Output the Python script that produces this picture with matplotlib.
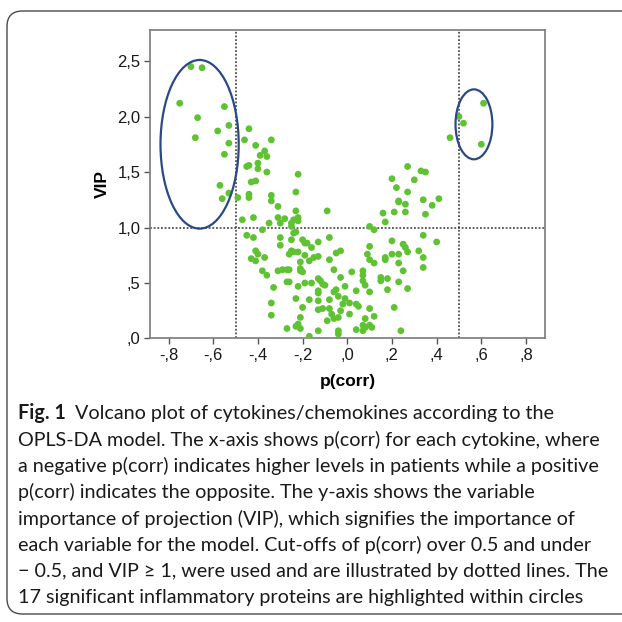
import matplotlib
matplotlib.use("Agg")
import matplotlib.pyplot as plt
from matplotlib.patches import Ellipse, FancyBboxPatch

# ==============================
# Data
# ==============================

# p(corr) / VIP of every protein
pcorr = [
    # left circled group
    -0.70, -0.65, -0.75, -0.55, -0.67, -0.53, -0.58, -0.68, -0.53, -0.55, -0.57, -0.53, -0.56,
    # right circled group
    0.61, 0.50, 0.52, 0.60,
    # VIP above 1, negative side
    -0.44, -0.46, -0.34, -0.41, -0.37, -0.39, -0.36, -0.40, -0.44, -0.45, -0.40, -0.36,
    -0.22, -0.41, -0.43, -0.49, -0.44, -0.44, -0.34, -0.23, -0.34, -0.31, -0.23, -0.09,
    -0.42, -0.47, -0.31, -0.28, -0.24, -0.22, -0.22, -0.35, -0.30, -0.25, -0.25,
    # VIP above 1, positive side
    0.46, 0.27, 0.33, 0.35, 0.20, 0.30, 0.22, 0.27, 0.23, 0.23, 0.26, 0.34, 0.38, 0.41,
    0.16, 0.21, 0.26, 0.35, 0.17, 0.10, 0.12,
    # VIP below 1, negative side (upper part)
    -0.38, -0.23, -0.24, -0.45, -0.42, -0.30, -0.20, -0.19, -0.08, -0.25, -0.30, -0.13,
    -0.18, -0.16, -0.41, -0.40, -0.25, -0.24, -0.26, -0.22, -0.19, -0.13, -0.05, -0.03,
    -0.37, -0.43, -0.17, -0.15, -0.41, -0.21, -0.08,
    # VIP below 1, positive side
    0.10, 0.25, 0.26, 0.20, 0.34, 0.40, 0.27, 0.32, 0.20, 0.23, 0.17, 0.17, 0.34, 0.09,
    0.10, 0.12, 0.23, 0.34, 0.25, 0.07, 0.07, 0.02, 0.15, 0.15, 0.18, -0.03, 0.07, 0.08,
    0.23, -0.01, 0.04, 0.18, 0.27, 0.10, -0.01, -0.02, -0.03, 0.01, 0.04, 0.05, 0.10,
    0.21, 0.01, 0.12, 0.08, 0.07, 0.08, 0.07, 0.10, 0.11, 0.04, 0.24, -0.04, -0.04,
    # VIP below 1, negative side (lower part)
    -0.38, -0.36, -0.31, -0.29, -0.27, -0.26, -0.21, -0.21, -0.20, -0.06, -0.27, -0.26,
    -0.19, -0.22, -0.16, -0.13, -0.12, -0.11, -0.10, -0.05, -0.06, -0.33, -0.13, -0.13,
    -0.17, -0.23, -0.13, -0.08, -0.04, -0.34, -0.20, -0.11, -0.13, -0.08, -0.34, -0.07,
    -0.21, -0.09, -0.06, -0.04, -0.22, -0.23, -0.27, -0.21, -0.13, -0.17,
]
vip = [
    2.45, 2.44, 2.12, 2.09, 1.99, 1.92, 1.87, 1.81, 1.76, 1.66, 1.38, 1.31, 1.26,
    2.12, 2.00, 1.94, 1.75,
    1.89, 1.79, 1.79, 1.74, 1.69, 1.65, 1.64, 1.58, 1.56, 1.55, 1.53, 1.50,
    1.48, 1.42, 1.41, 1.27, 1.30, 1.27, 1.29, 1.32, 1.24, 1.19, 1.15, 1.15,
    1.09, 1.07, 1.09, 1.08, 1.07, 1.09, 1.06, 1.04, 1.04, 1.04, 1.01,
    1.81, 1.55, 1.51, 1.50, 1.44, 1.43, 1.36, 1.32, 1.24, 1.23, 1.21, 1.25, 1.20, 1.26,
    1.13, 1.14, 1.14, 1.12, 1.05, 1.01, 0.98,
    0.98, 0.96, 0.95, 0.93, 0.91, 0.91, 0.89, 0.86, 0.91, 0.89, 0.84, 0.87,
    0.86, 0.82, 0.79, 0.76, 0.79, 0.78, 0.76, 0.78, 0.75, 0.74, 0.77, 0.79,
    0.73, 0.72, 0.70, 0.73, 0.70, 0.69, 0.71,
    0.83, 0.85, 0.82, 0.88, 0.93, 0.87, 0.78, 0.79, 0.76, 0.76, 0.73, 0.71, 0.73, 0.76,
    0.71, 0.68, 0.68, 0.64, 0.61, 0.61, 0.57, 0.60, 0.55, 0.52, 0.54, 0.55, 0.52, 0.48,
    0.51, 0.47, 0.43, 0.44, 0.45, 0.42, 0.36, 0.31, 0.25, 0.32, 0.31, 0.29, 0.27,
    0.28, 0.22, 0.20, 0.18, 0.12, 0.10, 0.07, 0.12, 0.10, 0.08, 0.07, 0.07, 0.04,
    0.61, 0.57, 0.61, 0.62, 0.62, 0.62, 0.63, 0.61, 0.60, 0.62, 0.51, 0.51,
    0.50, 0.47, 0.50, 0.54, 0.52, 0.49, 0.48, 0.44, 0.42, 0.46, 0.43, 0.41,
    0.35, 0.36, 0.34, 0.35, 0.38, 0.32, 0.28, 0.27, 0.26, 0.27, 0.21, 0.22,
    0.19, 0.16, 0.18, 0.19, 0.13, 0.11, 0.09, 0.09, 0.07, 0.02,
]

x_ticks = [-0.8, -0.6, -0.4, -0.2, 0.0, 0.2, 0.4, 0.6, 0.8]
x_ticklabels = ["-,8", "-,6", "-,4", "-,2", ",0", ",2", ",4", ",6", ",8"]
y_ticks = [0.0, 0.5, 1.0, 1.5, 2.0, 2.5]
y_ticklabels = [",0", ",5", "1,0", "1,5", "2,0", "2,5"]

pcorr_cutoff = 0.5
vip_cutoff = 1.0

# circled groups: (center p(corr), center VIP, width, height)
circles = [(-0.661, 1.75, 0.35, 1.52), (0.567, 1.93, 0.165, 0.63)]

caption_head = "Fig. 1"
caption_lines = [
    "Volcano plot of cytokines/chemokines according to the",
    "OPLS-DA model. The x-axis shows p(corr) for each cytokine, where",
    "a negative p(corr) indicates higher levels in patients while a positive",
    "p(corr) indicates the opposite. The y-axis shows the variable",
    "importance of projection (VIP), which signifies the importance of",
    "each variable for the model. Cut-offs of p(corr) over 0.5 and under",
    "\u2212 0.5, and VIP \u2265 1, were used and are illustrated by dotted lines. The",
    "17 significant inflammatory proteins are highlighted within circles",
]

# ==============================
# Figure
# ==============================

W = H = 622
fig = plt.figure(figsize=(W / 100, H / 100), dpi=100)
plt.rcParams['font.family'] = ['Liberation Sans', 'DejaVu Sans']

# rounded frame around the figure panel
frame = FancyBboxPatch((7 / W, 8 / H), 1.2, 1 - 19 / H,
                       boxstyle="round,pad=0,rounding_size=0.025",
                       transform=fig.transFigure, fill=False,
                       edgecolor="#4a4a4a", linewidth=1.0, clip_on=False)
fig.patches.append(frame)

ax = fig.add_axes([150 / W, 1 - 338.5 / H, 395 / W, 308.5 / H])
ax.set_xlim(-0.883, 0.885)
ax.set_ylim(0, 2.78)

ax.axvline(-pcorr_cutoff, color="#333333", lw=1.1, ls=(0, (1.2, 1.2)), zorder=1)
ax.axvline(pcorr_cutoff, color="#333333", lw=1.1, ls=(0, (1.2, 1.2)), zorder=1)
ax.axhline(vip_cutoff, color="#333333", lw=1.1, ls=(0, (1.2, 1.2)), zorder=1)

ax.scatter(pcorr, vip, s=24, color="#5ec232", edgecolors="none", zorder=3)

for cx, cy, w, h in circles:
    ax.add_patch(Ellipse((cx, cy), w, h, fill=False, edgecolor="#2a4a86",
                         linewidth=1.6, zorder=4))

ax.set_xticks(x_ticks)
ax.set_xticklabels(x_ticklabels)
ax.set_yticks(y_ticks)
ax.set_yticklabels(y_ticklabels)
ax.tick_params(direction="out", length=4, width=1.0, color="#555555",
               labelsize=12, labelcolor="#1a1a1a", pad=3)
for side in ["top", "right", "left", "bottom"]:
    ax.spines[side].set_color("#7a7a7a")
    ax.spines[side].set_linewidth(1.2)

ax.set_xlabel("p(corr)", fontsize=12.5, fontweight="bold", labelpad=8)
ax.set_ylabel("VIP", fontsize=12.5, fontweight="bold", labelpad=5)

# caption below the chart
cap_font = ['Lato', 'DejaVu Sans']
cap_size = 14.2
line_y = [413, 439.5, 466, 492.3, 518.7, 545, 571.5, 598]
renderer = fig.canvas.get_renderer()
head = fig.text(18 / W, 1 - line_y[0] / H, caption_head, fontsize=cap_size,
                fontweight="bold", family=cap_font, va="center", color="#1a1a1a")
head_box = head.get_window_extent(renderer)
for i, line in enumerate(caption_lines):
    x0 = (head_box.x1 + 9) / W if i == 0 else 18 / W
    fig.text(x0, 1 - line_y[i] / H, line, fontsize=cap_size, family=cap_font,
             va="center", color="#1a1a1a")

fig.savefig("out.png", dpi=100)
